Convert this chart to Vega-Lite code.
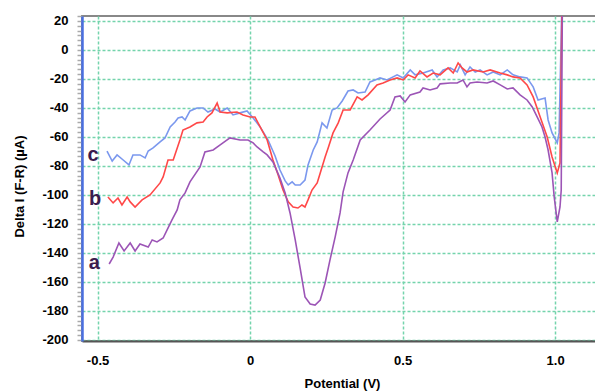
{
  "$schema": "https://vega.github.io/schema/vega-lite/v6.json",
  "width": 514,
  "height": 325,
  "autosize": "none",
  "padding": {"left": 82, "top": 16, "right": 0, "bottom": 51},
  "background": "white",
  "config": {"view": {"stroke": "#888888", "strokeWidth": 2}, "font": "Liberation Sans"},
  "datasets": {
    "curves": [
      {"s":"c","x":-0.469,"y":-69.7},{"s":"c","x":-0.452,"y":-76.6},{"s":"c","x":-0.436,"y":-72.4},{"s":"c","x":-0.416,"y":-75.9},{"s":"c","x":-0.397,"y":-79.3},{"s":"c","x":-0.384,"y":-72.4},{"s":"c","x":-0.361,"y":-72.4},{"s":"c","x":-0.344,"y":-74.5},{"s":"c","x":-0.334,"y":-69.7},{"s":"c","x":-0.318,"y":-67.6},{"s":"c","x":-0.295,"y":-63.4},{"s":"c","x":-0.279,"y":-60.7},{"s":"c","x":-0.262,"y":-53.1},{"s":"c","x":-0.246,"y":-49.7},{"s":"c","x":-0.236,"y":-46.9},{"s":"c","x":-0.223,"y":-46.2},{"s":"c","x":-0.213,"y":-48.3},{"s":"c","x":-0.197,"y":-42.1},{"s":"c","x":-0.174,"y":-40.0},{"s":"c","x":-0.154,"y":-40.0},{"s":"c","x":-0.138,"y":-42.8},{"s":"c","x":-0.115,"y":-40.7},{"s":"c","x":-0.098,"y":-42.8},{"s":"c","x":-0.075,"y":-40.0},{"s":"c","x":-0.056,"y":-44.8},{"s":"c","x":-0.033,"y":-43.4},{"s":"c","x":-0.010,"y":-42.1},{"s":"c","x":0.010,"y":-46.9},{"s":"c","x":0.033,"y":-53.1},{"s":"c","x":0.059,"y":-62.1},{"s":"c","x":0.082,"y":-73.1},{"s":"c","x":0.098,"y":-82.8},{"s":"c","x":0.115,"y":-90.3},{"s":"c","x":0.125,"y":-93.1},{"s":"c","x":0.138,"y":-91.0},{"s":"c","x":0.148,"y":-93.1},{"s":"c","x":0.164,"y":-93.1},{"s":"c","x":0.180,"y":-89.7},{"s":"c","x":0.190,"y":-79.3},{"s":"c","x":0.207,"y":-69.0},{"s":"c","x":0.220,"y":-63.4},{"s":"c","x":0.236,"y":-50.3},{"s":"c","x":0.252,"y":-53.8},{"s":"c","x":0.269,"y":-41.4},{"s":"c","x":0.285,"y":-40.0},{"s":"c","x":0.302,"y":-35.2},{"s":"c","x":0.321,"y":-28.3},{"s":"c","x":0.338,"y":-27.6},{"s":"c","x":0.354,"y":-29.7},{"s":"c","x":0.377,"y":-29.0},{"s":"c","x":0.393,"y":-22.1},{"s":"c","x":0.410,"y":-20.7},{"s":"c","x":0.426,"y":-19.3},{"s":"c","x":0.449,"y":-20.7},{"s":"c","x":0.482,"y":-17.2},{"s":"c","x":0.502,"y":-19.3},{"s":"c","x":0.525,"y":-13.8},{"s":"c","x":0.541,"y":-17.2},{"s":"c","x":0.567,"y":-15.9},{"s":"c","x":0.597,"y":-13.8},{"s":"c","x":0.613,"y":-18.6},{"s":"c","x":0.633,"y":-13.8},{"s":"c","x":0.656,"y":-12.4},{"s":"c","x":0.679,"y":-15.2},{"s":"c","x":0.689,"y":-10.3},{"s":"c","x":0.705,"y":-17.2},{"s":"c","x":0.721,"y":-11.7},{"s":"c","x":0.738,"y":-15.2},{"s":"c","x":0.754,"y":-13.8},{"s":"c","x":0.777,"y":-17.2},{"s":"c","x":0.797,"y":-15.2},{"s":"c","x":0.820,"y":-17.2},{"s":"c","x":0.843,"y":-13.8},{"s":"c","x":0.862,"y":-17.2},{"s":"c","x":0.885,"y":-18.6},{"s":"c","x":0.908,"y":-19.3},{"s":"c","x":0.928,"y":-25.5},{"s":"c","x":0.944,"y":-34.5},{"s":"c","x":0.967,"y":-33.1},{"s":"c","x":0.977,"y":-48.3},{"s":"c","x":0.990,"y":-57.2},{"s":"c","x":1.007,"y":-64.1},{"s":"c","x":1.013,"y":-57.2},{"s":"c","x":1.023,"y":40},
      {"s":"b","x":-0.466,"y":-101.4},{"s":"b","x":-0.449,"y":-105.5},{"s":"b","x":-0.433,"y":-102.1},{"s":"b","x":-0.420,"y":-106.9},{"s":"b","x":-0.403,"y":-101.4},{"s":"b","x":-0.393,"y":-104.8},{"s":"b","x":-0.377,"y":-108.3},{"s":"b","x":-0.354,"y":-103.4},{"s":"b","x":-0.328,"y":-100.0},{"s":"b","x":-0.295,"y":-91.7},{"s":"b","x":-0.285,"y":-87.6},{"s":"b","x":-0.269,"y":-75.9},{"s":"b","x":-0.252,"y":-75.9},{"s":"b","x":-0.230,"y":-62.1},{"s":"b","x":-0.220,"y":-55.2},{"s":"b","x":-0.197,"y":-53.1},{"s":"b","x":-0.174,"y":-50.3},{"s":"b","x":-0.154,"y":-49.7},{"s":"b","x":-0.141,"y":-46.2},{"s":"b","x":-0.125,"y":-43.4},{"s":"b","x":-0.108,"y":-36.6},{"s":"b","x":-0.098,"y":-42.8},{"s":"b","x":-0.075,"y":-43.4},{"s":"b","x":-0.043,"y":-42.8},{"s":"b","x":-0.023,"y":-44.8},{"s":"b","x":0.000,"y":-46.2},{"s":"b","x":0.016,"y":-46.2},{"s":"b","x":0.033,"y":-53.1},{"s":"b","x":0.056,"y":-62.1},{"s":"b","x":0.075,"y":-75.9},{"s":"b","x":0.092,"y":-86.2},{"s":"b","x":0.108,"y":-96.6},{"s":"b","x":0.125,"y":-104.8},{"s":"b","x":0.141,"y":-108.3},{"s":"b","x":0.157,"y":-109.0},{"s":"b","x":0.170,"y":-106.9},{"s":"b","x":0.180,"y":-108.3},{"s":"b","x":0.190,"y":-103.4},{"s":"b","x":0.203,"y":-96.6},{"s":"b","x":0.220,"y":-91.7},{"s":"b","x":0.230,"y":-84.8},{"s":"b","x":0.246,"y":-73.8},{"s":"b","x":0.256,"y":-67.6},{"s":"b","x":0.272,"y":-57.2},{"s":"b","x":0.289,"y":-50.3},{"s":"b","x":0.305,"y":-41.4},{"s":"b","x":0.328,"y":-41.4},{"s":"b","x":0.351,"y":-32.4},{"s":"b","x":0.367,"y":-34.5},{"s":"b","x":0.387,"y":-31.0},{"s":"b","x":0.416,"y":-24.1},{"s":"b","x":0.436,"y":-22.8},{"s":"b","x":0.459,"y":-20.7},{"s":"b","x":0.482,"y":-19.3},{"s":"b","x":0.502,"y":-20.7},{"s":"b","x":0.518,"y":-17.2},{"s":"b","x":0.541,"y":-19.3},{"s":"b","x":0.557,"y":-14.5},{"s":"b","x":0.580,"y":-18.6},{"s":"b","x":0.600,"y":-15.9},{"s":"b","x":0.623,"y":-17.2},{"s":"b","x":0.649,"y":-12.4},{"s":"b","x":0.666,"y":-15.9},{"s":"b","x":0.682,"y":-9.0},{"s":"b","x":0.695,"y":-12.4},{"s":"b","x":0.711,"y":-15.2},{"s":"b","x":0.731,"y":-13.8},{"s":"b","x":0.764,"y":-15.2},{"s":"b","x":0.787,"y":-13.8},{"s":"b","x":0.820,"y":-15.9},{"s":"b","x":0.843,"y":-17.2},{"s":"b","x":0.862,"y":-18.6},{"s":"b","x":0.885,"y":-19.3},{"s":"b","x":0.908,"y":-24.1},{"s":"b","x":0.928,"y":-32.4},{"s":"b","x":0.951,"y":-46.2},{"s":"b","x":0.974,"y":-60.0},{"s":"b","x":0.990,"y":-73.8},{"s":"b","x":1.007,"y":-84.8},{"s":"b","x":1.016,"y":-77.9},{"s":"b","x":1.023,"y":40},
      {"s":"a","x":-0.462,"y":-147.6},{"s":"a","x":-0.449,"y":-142.8},{"s":"a","x":-0.430,"y":-133.1},{"s":"a","x":-0.413,"y":-138.6},{"s":"a","x":-0.393,"y":-133.1},{"s":"a","x":-0.377,"y":-138.6},{"s":"a","x":-0.361,"y":-133.8},{"s":"a","x":-0.334,"y":-135.9},{"s":"a","x":-0.321,"y":-131.0},{"s":"a","x":-0.305,"y":-132.4},{"s":"a","x":-0.285,"y":-129.7},{"s":"a","x":-0.272,"y":-124.1},{"s":"a","x":-0.256,"y":-117.2},{"s":"a","x":-0.239,"y":-110.3},{"s":"a","x":-0.230,"y":-103.4},{"s":"a","x":-0.213,"y":-98.6},{"s":"a","x":-0.197,"y":-91.0},{"s":"a","x":-0.164,"y":-80.7},{"s":"a","x":-0.148,"y":-70.3},{"s":"a","x":-0.121,"y":-69.0},{"s":"a","x":-0.098,"y":-65.5},{"s":"a","x":-0.066,"y":-60.7},{"s":"a","x":-0.033,"y":-62.1},{"s":"a","x":-0.007,"y":-62.1},{"s":"a","x":0.010,"y":-64.1},{"s":"a","x":0.023,"y":-66.9},{"s":"a","x":0.043,"y":-70.3},{"s":"a","x":0.056,"y":-72.4},{"s":"a","x":0.075,"y":-77.2},{"s":"a","x":0.098,"y":-88.3},{"s":"a","x":0.115,"y":-98.6},{"s":"a","x":0.131,"y":-112.4},{"s":"a","x":0.148,"y":-131.0},{"s":"a","x":0.164,"y":-150.3},{"s":"a","x":0.180,"y":-170.3},{"s":"a","x":0.197,"y":-175.2},{"s":"a","x":0.213,"y":-175.9},{"s":"a","x":0.230,"y":-172.4},{"s":"a","x":0.246,"y":-160.7},{"s":"a","x":0.262,"y":-144.8},{"s":"a","x":0.279,"y":-128.9},{"s":"a","x":0.295,"y":-112.4},{"s":"a","x":0.305,"y":-97.9},{"s":"a","x":0.321,"y":-84.8},{"s":"a","x":0.338,"y":-75.9},{"s":"a","x":0.361,"y":-62.1},{"s":"a","x":0.393,"y":-55.2},{"s":"a","x":0.426,"y":-47.6},{"s":"a","x":0.459,"y":-41.4},{"s":"a","x":0.475,"y":-32.4},{"s":"a","x":0.492,"y":-31.7},{"s":"a","x":0.508,"y":-35.9},{"s":"a","x":0.525,"y":-31.0},{"s":"a","x":0.557,"y":-29.0},{"s":"a","x":0.567,"y":-26.2},{"s":"a","x":0.590,"y":-27.6},{"s":"a","x":0.613,"y":-26.2},{"s":"a","x":0.623,"y":-23.4},{"s":"a","x":0.656,"y":-22.8},{"s":"a","x":0.679,"y":-22.8},{"s":"a","x":0.698,"y":-20.7},{"s":"a","x":0.711,"y":-25.5},{"s":"a","x":0.721,"y":-22.8},{"s":"a","x":0.744,"y":-22.1},{"s":"a","x":0.777,"y":-22.8},{"s":"a","x":0.797,"y":-21.4},{"s":"a","x":0.820,"y":-24.1},{"s":"a","x":0.843,"y":-26.9},{"s":"a","x":0.862,"y":-26.2},{"s":"a","x":0.885,"y":-31.0},{"s":"a","x":0.908,"y":-34.5},{"s":"a","x":0.925,"y":-39.3},{"s":"a","x":0.941,"y":-46.2},{"s":"a","x":0.957,"y":-53.1},{"s":"a","x":0.967,"y":-60.0},{"s":"a","x":0.977,"y":-69.0},{"s":"a","x":0.990,"y":-84.8},{"s":"a","x":0.997,"y":-101.4},{"s":"a","x":1.007,"y":-118.6},{"s":"a","x":1.016,"y":-108.3},{"s":"a","x":1.020,"y":-96.6},{"s":"a","x":1.024,"y":40}
    ],
    "labels": [
      {"s":"c","x":-0.515,"y":-72.4},
      {"s":"b","x":-0.508,"y":-102.8},
      {"s":"a","x":-0.511,"y":-146.9}
    ]
  },
  "layer": [
    {
      "data": {"name": "curves"},
      "mark": {"type": "line", "strokeWidth": 1.6, "clip": true},
      "encoding": {
        "x": {
          "field": "x", "type": "quantitative",
          "scale": {"domain": [-0.551, 1.134], "nice": false, "zero": false},
          "axis": {
            "values": [-0.5, 0, 0.5, 1],
            "labelExpr": "datum.value == 1 ? '1.0' : datum.value == 0.5 ? '0.5' : datum.value == 0 ? '0' : '-0.5'",
            "title": "Potential (V)",
            "titleFontSize": 13, "titleFontWeight": "bold", "titleColor": "#000000",
            "titleX": 260, "titleY": 42, "titleBaseline": "middle",
            "labelFontSize": 13, "labelFontWeight": "bold", "labelColor": "#000000",
            "labelPadding": 13, "labelFlush": false, "labelOverlap": false,
            "tickSize": 0, "tickColor": "transparent",
            "domainColor": "#555555", "domainWidth": 2,
            "grid": true, "gridColor": "#74d4ac", "gridDash": [3, 2], "gridWidth": 1.5
          }
        },
        "y": {
          "field": "y", "type": "quantitative",
          "scale": {"domain": [-200.7, 23.4], "nice": false, "zero": false},
          "axis": {
            "tickCount": 500,
            "values": [-200,-196.667,-193.333,-190,-186.667,-183.333,-180,-176.667,-173.333,-170,-166.667,-163.333,-160,-156.667,-153.333,-150,-146.667,-143.333,-140,-136.667,-133.333,-130,-126.667,-123.333,-120,-116.667,-113.333,-110,-106.667,-103.333,-100,-96.667,-93.333,-90,-86.667,-83.333,-80,-76.667,-73.333,-70,-66.667,-63.333,-60,-56.667,-53.333,-50,-46.667,-43.333,-40,-36.667,-33.333,-30,-26.667,-23.333,-20,-16.667,-13.333,-10,-6.667,-3.333,0,3.333,6.667,10,13.333,16.667,20,23.333],
            "labelExpr": "abs(datum.value/20 - round(datum.value/20)) < 0.001 ? '' + round(datum.value) : ''",
            "title": "Delta I (F-R) (µA)",
            "titleFontSize": 13, "titleFontWeight": "bold", "titleColor": "#000000",
            "titleX": -63, "titleY": 170, "titleBaseline": "middle",
            "labelFontSize": 13, "labelFontWeight": "bold", "labelColor": "#000000",
            "labelPadding": 9, "labelOverlap": false,
            "tickSize": 5, "tickColor": "#aaaaaa", "tickWidth": 1.5,
            "domainColor": "#4a6fe0", "domainWidth": 2.5,
            "grid": true, "gridColor": "#74d4ac", "gridDash": [3, 2], "gridWidth": 1.5,
            "gridOpacity": {"condition": {"test": "abs(datum.value/20 - round(datum.value/20)) < 0.001", "value": 1}, "value": 0}
          }
        },
        "color": {
          "field": "s", "type": "nominal",
          "scale": {"domain": ["a", "b", "c"], "range": ["#9c55b6", "#ff4848", "#7b98ee"]},
          "legend": null
        }
      }
    },
    {
      "data": {"name": "labels"},
      "mark": {"type": "text", "fontSize": 20, "fontWeight": "bold", "color": "#3b1c4e", "font": "Liberation Sans"},
      "encoding": {
        "x": {"field": "x", "type": "quantitative"},
        "y": {"field": "y", "type": "quantitative"},
        "text": {"field": "s"}
      }
    }
  ]
}
